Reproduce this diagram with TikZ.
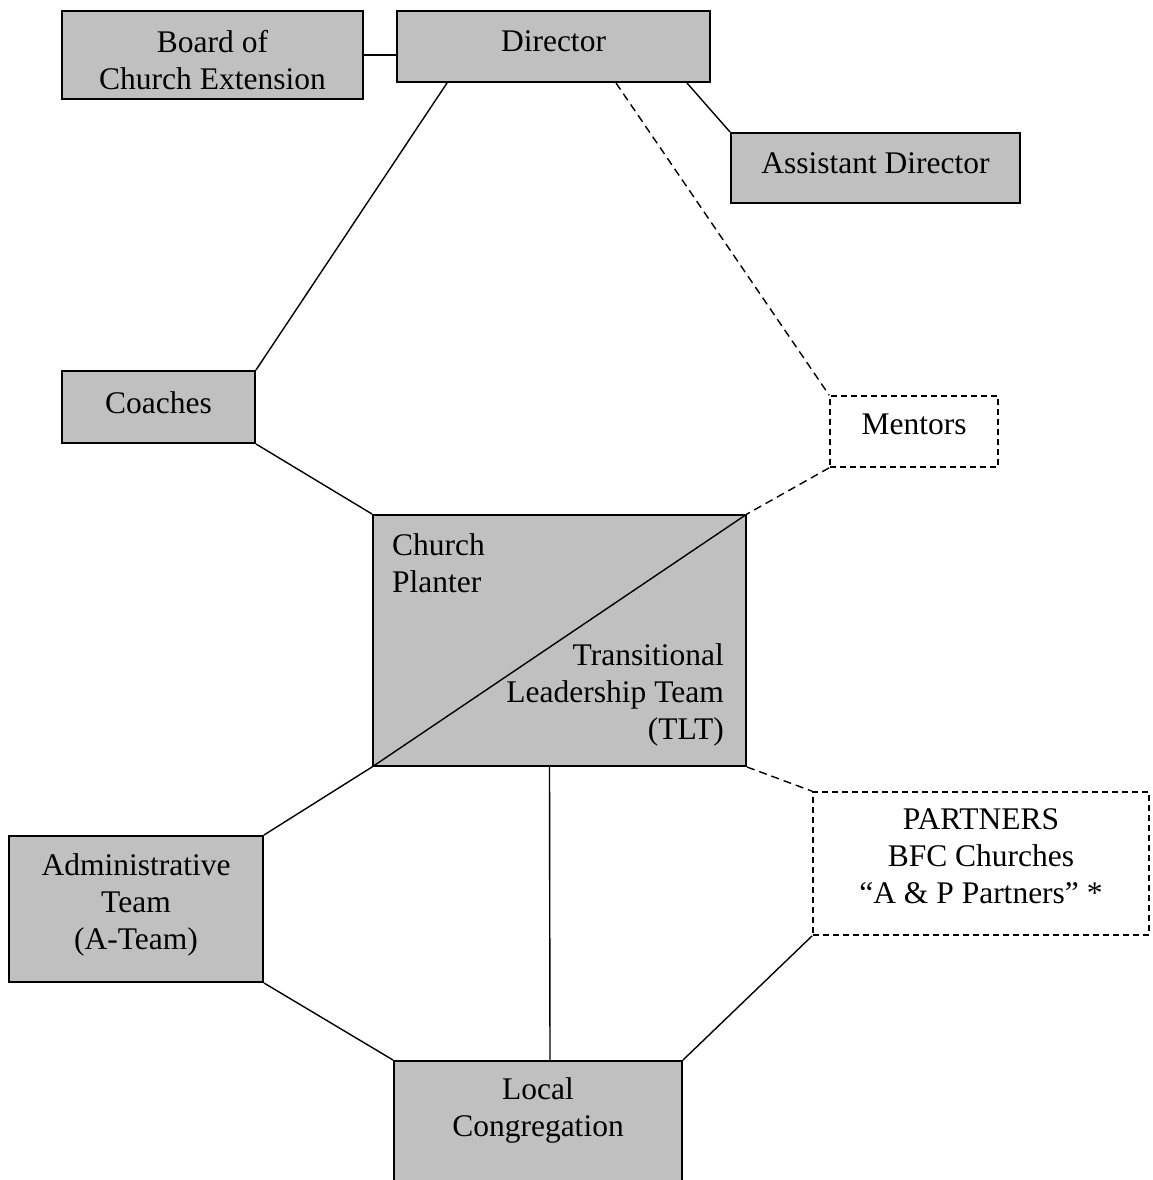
\documentclass[tikz,border=0pt]{standalone}
\usepackage{fontspec}
\setmainfont{Liberation Serif}
\usepackage{xcolor}
\usepackage{tikz}
\usetikzlibrary{positioning}
\definecolor{unitgray}{HTML}{C0C0C0}
\tikzstyle{unit} = [rectangle, draw=black, line width=2pt, fill=unitgray, inner sep=0pt]
\tikzstyle{outside} = [rectangle, draw=black, line width=1.6pt, dash pattern=on 6pt off 4pt, inner sep=0pt]
\tikzstyle{unittext} = [inner sep=0pt, align=center, font=\fontsize{31.5}{37}\selectfont]
\tikzstyle{tie} = [line width=1.4pt]
\tikzstyle{loosetie} = [line width=1.4pt, dash pattern=on 8pt off 5pt]
\begin{document}
\begin{tikzpicture}[x=1pt, y=-1pt]
			\useasboundingbox (0,0) rectangle (1153,1180);
			\clip (0,0) rectangle (1153,1180);
			% boxes
			\node (board) [unit, minimum width=301pt, minimum height=88pt] at (212.5,55) {};
			\node (director) [unit, minimum width=313pt, minimum height=71pt] at (553.5,46.5) {};
			\node (asst) [unit, minimum width=289pt, minimum height=70pt] at (875.5,168) {};
			\node (coaches) [unit, minimum width=193pt, minimum height=72pt] at (158.5,407) {};
			\node (mentors) [outside, minimum width=168pt, minimum height=71pt] at (914,431.5) {};
			\node (cp) [unit, minimum width=373pt, minimum height=251pt] at (559.5,640.5) {};
			\node (ateam) [unit, minimum width=254pt, minimum height=146pt] at (136,909) {};
			\node (partners) [outside, minimum width=336pt, minimum height=143pt] at (981,863.5) {};
			\node (local) [unit, minimum width=288pt, minimum height=134pt] at (538,1128) {};

			% texts
			\node (board-t) [unittext, below=20pt of board.north] {Board of\\Church Extension};
			\node (director-t) [unittext, below=20pt of director.north] {Director};
			\node (asst-t) [unittext, below=20pt of asst.north] {Assistant Director};
			\node (coaches-t) [unittext, below=21pt of coaches.north] {Coaches};
			\node (mentors-t) [unittext, below=18pt of mentors.north] {Mentors};
			\node (planter-t) [unittext, align=left, below right=19pt and 20pt of cp.north west] {Church\\Planter};
			\node (tlt-t) [unittext, align=right, below left=129pt and 23pt of cp.north east] {Transitional\\Leadership Team\\(TLT)};
			\node (ateam-t) [unittext, below=18pt of ateam.north] {Administrative\\Team\\(A-Team)};
			\node (partners-t) [unittext, below=17pt of partners.north] {PARTNERS\\BFC Churches\\``A \& P Partners'' *};
			\node (local-t) [unittext, below=17pt of local.north] {Local\\Congregation};

			% connectors
			\draw [tie] (board.east) -- (board.east -| director.west);
			\draw [tie] ([xshift=51pt]director.south west) -- (coaches.north east);
			\draw [loosetie] ([xshift=220pt]director.south west) -- (mentors.north west);
			\draw [tie] ([xshift=-24pt]director.south east) -- (asst.north west);
			\draw [tie] (coaches.south east) -- (cp.north west);
			\draw [loosetie] (mentors.south west) -- (cp.north east);
			\draw [tie] (cp.south west) -- (cp.north east);
			\draw [tie] (cp.south west) -- (ateam.north east);
			\draw [tie] ([xshift=-10pt]cp.south) -- ([xshift=12pt]local.north);
			\draw [loosetie] (cp.south east) -- (partners.north west);
			\draw [tie] (ateam.south east) -- (local.north west);
			\draw [tie] (partners.south west) -- (local.north east);
		\end{tikzpicture}
\end{document}
